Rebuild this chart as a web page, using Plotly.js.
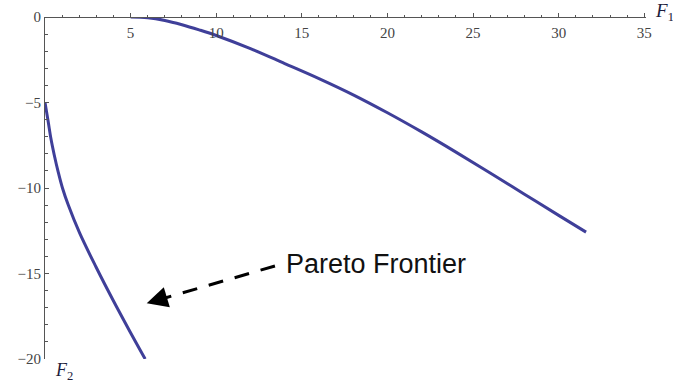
<!DOCTYPE html>
<html>
<head>
<meta charset="utf-8">
<script src="https://cdn.plot.ly/plotly-3.0.1.min.js"></script>
<style>html,body{margin:0;padding:0;background:#fff;}#plot{width:673px;height:383px;}</style>
</head>
<body>
<div id="plot"></div>
<script>
// Upper curve (F1, F2)
const upperF1 = [5, 6, 7, 8, 9, 10, 12, 14, 16, 18, 20, 22, 24, 26, 28, 30, 31.6];
const upperF2 = [0, -0.04, -0.2, -0.45, -0.75, -1.08, -1.85, -2.72, -3.6, -4.55, -5.6, -6.72, -7.9, -9.12, -10.36, -11.6, -12.58];
// Lower curve (Pareto frontier)
const lowerF1 = [0, 0.19, 0.34, 0.54, 0.77, 1.02, 1.36, 2.02, 2.98, 3.97, 4.91, 5.85];
const lowerF2 = [-5, -6.14, -7.08, -8.07, -9.06, -10.0, -11.0, -12.63, -14.62, -16.55, -18.3, -20];
// Tick labels
const xTicks = [5, 10, 15, 20, 25, 30, 35];
const yTicks = [0, -5, -10, -15, -20];
const labelText = "Pareto Frontier";

const lineColor = "#3f3f99";
const tickFont = {family: "Liberation Serif, serif", size: 15, color: "#444"};

const traces = [
  {x: upperF1, y: upperF2, mode: "lines", line: {color: lineColor, width: 3, shape: "spline"}, hoverinfo: "skip"},
  {x: lowerF1, y: lowerF2, mode: "lines", line: {color: lineColor, width: 3, shape: "spline"}, hoverinfo: "skip"}
];

const layout = {
  width: 673, height: 383,
  margin: {l: 45, r: 27, t: 17, b: 24, pad: 0},
  paper_bgcolor: "#fff", plot_bgcolor: "#fff",
  showlegend: false,
  xaxis: {
    range: [0, 35.1], side: "bottom", anchor: "free", position: 1,
    showgrid: false, zeroline: false, showline: true, linecolor: "#555", linewidth: 1,
    tickmode: "array", tickvals: xTicks, ticktext: xTicks.map(String),
    ticks: "inside", ticklen: 4, tickcolor: "#555", tickwidth: 1,
    tickfont: tickFont, ticklabelstandoff: 2,
    minor: {tickmode: "linear", tick0: 0, dtick: 1, ticks: "inside", ticklen: 2.5, tickcolor: "#555", tickwidth: 1},
    fixedrange: true
  },
  yaxis: {
    range: [-20, 0], anchor: "x",
    showgrid: false, zeroline: false, showline: true, linecolor: "#555", linewidth: 1,
    tickmode: "array", tickvals: yTicks,
    ticks: "inside", ticklen: 4, tickcolor: "#555", tickwidth: 1,
    tickfont: tickFont, ticklabelstandoff: 0,
    minor: {tickmode: "linear", tick0: 0, dtick: 1, ticks: "inside", ticklen: 2.5, tickcolor: "#555", tickwidth: 1},
    fixedrange: true
  },
  shapes: [
    {type: "line", xref: "x", yref: "y", x0: 13.43, y0: -14.56, x1: 7.01, y1: -16.43,
     line: {color: "#000", width: 3, dash: "15px,12px"}}
  ],
  annotations: [
    {x: 5.94, y: -16.74, xref: "x", yref: "y", ax: 15, ay: -4.5, text: "", showarrow: true,
     arrowhead: 2, arrowsize: 1.4, arrowwidth: 3, arrowcolor: "#000", standoff: 0},
    {x: 13.95, y: -14.44, xref: "x", yref: "y", text: labelText, showarrow: false,
     xanchor: "left", yanchor: "middle", font: {family: "Liberation Sans, Arial, sans-serif", size: 27, color: "#111"}},
    {x: 1.012, y: 1.015, xref: "paper", yref: "paper", text: "<i>F</i><sub>1</sub>", showarrow: false,
     xanchor: "left", yanchor: "middle", font: {family: "Liberation Serif, serif", size: 19, color: "#1c1c3c"}},
    {x: 0.013, y: -0.036, xref: "paper", yref: "paper", text: "<i>F</i><sub>2</sub>", showarrow: false,
     xanchor: "left", yanchor: "middle", font: {family: "Liberation Serif, serif", size: 18, color: "#1c1c3c"}}
  ]
};

Plotly.newPlot("plot", traces, layout, {displayModeBar: false, staticPlot: true});
</script>
</body>
</html>
